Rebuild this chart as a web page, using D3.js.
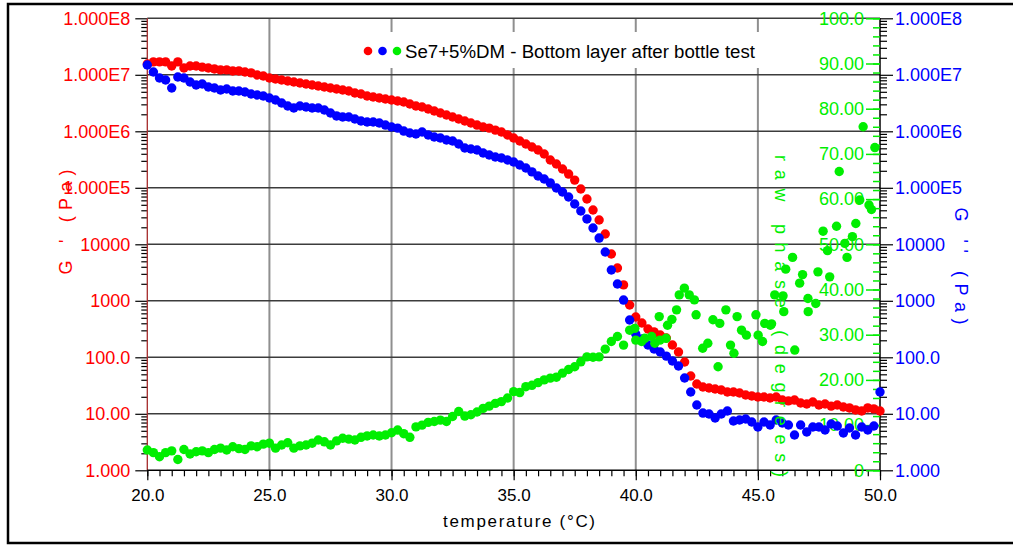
<!DOCTYPE html>
<html>
<head>
<meta charset="utf-8">
<script src="https://cdn.jsdelivr.net/npm/d3@7"></script>
<style>
  body { margin: 0; background: #fff; }
  svg { display: block; }
  text { font-family: "Liberation Sans", Arial, sans-serif; }
</style>
</head>
<body>
<svg id="chart" width="1013" height="547"></svg>
<script>
// Temperature sweep (°C) shared by G' and G''
const temps = [
  20.00,20.25,20.50,20.75,21.00,21.25,21.50,21.75,22.00,22.25,
  22.50,22.75,23.00,23.25,23.50,23.75,24.00,24.25,24.50,24.75,
  25.00,25.25,25.50,25.75,26.00,26.25,26.50,26.75,27.00,27.25,
  27.50,27.75,28.00,28.25,28.50,28.75,29.00,29.25,29.50,29.75,
  30.00,30.25,30.50,30.75,31.00,31.25,31.50,31.75,32.00,32.25,
  32.50,32.75,33.00,33.25,33.50,33.75,34.00,34.25,34.50,34.75,
  35.00,35.25,35.50,35.75,36.00,36.25,36.50,36.75,37.00,37.25,
  37.50,37.75,38.00,38.25,38.50,38.75,39.00,39.25,39.50,39.75,
  40.00,40.25,40.50,40.75,41.00,41.25,41.50,41.75,42.00,42.25,
  42.50,42.75,43.00,43.25,43.50,43.75,44.00,44.25,44.50,44.75,
  45.00,45.25,45.50,45.75,46.00,46.25,46.50,46.75,47.00,47.25,
  47.50,47.75,48.00,48.25,48.50,48.75,49.00,49.25,49.50,49.75,
  50.00
];

// Storage modulus G' (Pa)
const storageModulus = [
  1.55e7,1.69e7,1.69e7,1.69e7,1.43e7,1.69e7,1.32e7,1.43e7,1.43e7,1.37e7,
  1.32e7,1.27e7,1.22e7,1.22e7,1.17e7,1.17e7,1.12e7,1.08e7,9.91e6,9.52e6,
  8.77e6,8.43e6,8.09e6,7.77e6,7.46e6,7.16e6,6.88e6,6.60e6,6.34e6,6.08e6,
  5.84e6,5.61e6,5.38e6,5.17e6,4.76e6,4.57e6,4.21e6,4.05e6,3.88e6,3.73e6,
  3.58e6,3.44e6,3.30e6,3.04e6,2.80e6,2.69e6,2.48e6,2.29e6,2.11e6,1.94e6,
  1.79e6,1.65e6,1.52e6,1.40e6,1.29e6,1.19e6,1.14e6,1.05e6,9.72e5,8.61e5,
  7.61e5,6.73e5,5.96e5,5.27e5,4.67e5,3.96e5,3.10e5,2.64e5,2.15e5,1.75e5,
  1.37e5,9.53e4,6.34e4,4.05e4,2.69e4,1.52e4,6.73e3,3.81e3,1.91e3,843,
  517,405,317,281,248,220,165,124,82.6,46.7,
  33.7,29.8,28.6,27.5,26.4,24.3,24.3,23.3,21.5,20.7,
  19.8,19.8,19.0,19.8,17.5,16.9,17.5,15.5,14.9,16.2,
  14.3,14.9,13.7,14.3,13.2,12.7,11.7,11.2,12.7,12.2,
  11.2
];

// Loss modulus G'' (Pa)
const lossModulus = [
  1.49e7,1.12e7,8.77e6,8.09e6,5.84e6,9.14e6,8.77e6,7.46e6,6.60e6,6.88e6,
  6.08e6,5.84e6,5.38e6,5.61e6,5.17e6,5.17e6,4.96e6,4.57e6,4.39e6,4.21e6,
  3.88e6,3.58e6,3.17e6,2.80e6,2.58e6,2.80e6,2.69e6,2.58e6,2.58e6,2.38e6,
  2.11e6,1.87e6,1.79e6,1.79e6,1.65e6,1.52e6,1.46e6,1.46e6,1.40e6,1.29e6,
  1.19e6,1.14e6,1.01e6,9.33e5,8.96e5,9.72e5,8.61e5,7.93e5,7.61e5,7.01e5,
  6.73e5,5.96e5,5.06e5,4.86e5,4.67e5,4.13e5,3.81e5,3.51e5,3.37e5,3.10e5,
  2.86e5,2.53e5,2.24e5,1.91e5,1.62e5,1.43e5,1.22e5,9.91e4,8.43e4,6.88e4,
  5.17e4,3.88e4,2.81e4,1.94e4,1.29e4,7.31e3,3.51e3,1.98e3,1.03e3,457,
  258,211,165,140,124,105,86.1,70.2,43.0,24.3,
  14.3,10.3,9.92,8.43,9.92,11.2,7.46,7.77,8.09,7.16,
  5.84,7.16,6.34,7.77,6.88,6.34,4.21,6.34,4.76,5.84,
  5.84,5.17,6.60,6.08,4.57,5.61,4.21,5.84,5.17,6.08,
  24.3
];

// Raw phase angle (degrees) and the temperatures it was logged at
const phaseTemps = [
  20.00,20.25,20.50,20.75,21.00,21.25,21.50,21.75,22.00,22.25,
  22.50,22.75,23.00,23.25,23.50,23.75,24.00,24.25,24.50,24.75,
  25.00,25.25,25.50,25.75,26.00,26.25,26.50,26.75,27.00,27.25,
  27.50,27.75,28.00,28.25,28.50,28.75,29.00,29.25,29.50,29.75,
  30.00,30.25,30.50,30.75,31.00,31.25,31.50,31.75,32.00,32.25,
  32.50,32.75,33.00,33.25,33.50,33.75,34.00,34.25,34.50,34.75,
  35.00,35.25,35.50,35.75,36.00,36.25,36.50,36.75,37.00,37.25,
  37.50,37.75,38.00,38.25,38.50,38.75,39.00,39.25,39.50,39.75,
  39.96,40.00,40.24,40.37,40.65,40.78,40.96,40.99,41.24,41.30,
  41.48,41.67,41.78,41.99,42.19,42.40,42.47,42.74,42.95,43.16,
  43.37,43.44,43.69,43.88,44.02,44.15,44.33,44.53,44.92,45.01,
  45.19,45.28,45.51,45.56,45.69,46.03,46.06,46.14,46.42,46.51,
  46.71,46.83,47.05,47.06,47.37,47.46,47.67,47.85,47.94,48.22,
  48.33,48.56,48.65,48.87,49.01,49.17,49.31,49.55,49.65,49.79
];
const phaseAngle = [
  4.5,3.9,3.0,3.9,4.3,2.4,4.6,3.6,4.1,4.3,
  3.9,4.6,4.9,4.5,5.2,4.8,4.6,5.4,5.2,5.8,
  6.0,4.9,5.6,6.1,4.9,5.4,5.6,6.0,6.7,6.3,
  5.6,6.5,7.1,6.9,6.7,7.3,7.6,7.8,7.6,7.8,
  8.3,8.9,8.1,7.3,9.6,10.0,10.6,10.8,11.1,10.8,
  11.9,13.0,12.0,12.3,12.9,13.7,14.2,14.8,15.2,16.0,
  17.4,17.2,18.5,18.8,19.4,20.0,20.4,20.6,21.5,22.3,
  22.9,24.0,25.1,25.0,25.1,26.8,28.5,29.6,27.7,31.0,
  31.4,28.8,28.5,29.2,29.6,28.1,34.0,28.8,29.2,32.1,
  33.4,35.5,38.8,40.3,38.8,37.7,34.4,27.0,28.1,33.3,
  22.9,32.5,35.5,27.7,25.9,34.0,31.0,29.9,34.4,29.9,
  28.5,32.5,32.1,32.4,38.8,38.6,35.1,44.5,47.1,26.6,
  41.4,43.3,38.0,35.1,36.9,43.9,52.9,48.6,42.8,54.0,
  66.1,50.2,47.1,51.7,54.6,59.8,76.0,58.7,57.7,71.4
];

const xTicks = [20, 25, 30, 35, 40, 45, 50];
const xTickLabels = ["20.0", "25.0", "30.0", "35.0", "40.0", "45.0", "50.0"];
const modulusTicks = [1, 10, 100, 1000, 1e4, 1e5, 1e6, 1e7, 1e8];
const modulusLabels = ["1.000", "10.00", "100.0", "1000", "10000", "1.000E5", "1.000E6", "1.000E7", "1.000E8"];
const phaseTicks = [0, 10, 20, 30, 40, 50, 60, 70, 80, 90, 100];
const phaseLabels = ["0", "10.00", "20.00", "30.00", "40.00", "50.00", "60.00", "70.00", "80.00", "90.00", "100.0"];
const legendText = "Se7+5%DM - Bottom layer after bottle test";

const RED = "#ff0000", BLUE = "#0000ff", GREEN = "#00ee00";

const svg = d3.select("#chart");
svg.append("rect").attr("width", 1013).attr("height", 547).attr("fill", "#fff");

// outer frame
svg.append("rect")
  .attr("x", 8).attr("y", 4).attr("width", 1020).attr("height", 539)
  .attr("fill", "none").attr("stroke", "#000").attr("stroke-width", 2.5);

const x = d3.scaleLinear().domain([20, 50]).range([147.3, 880]);
const yMod = d3.scaleLog().domain([1, 1e8]).range([470.3, 18.3]);
const yPhase = d3.scaleLinear().domain([0, 100]).range([470.3, 18.3]);

// grid
const grid = svg.append("g");
grid.selectAll("line.v").data(xTicks.slice(1, -1)).join("line")
  .attr("x1", d => x(d)).attr("x2", d => x(d))
  .attr("y1", yMod(1e8)).attr("y2", yMod(1))
  .attr("stroke", "#8f8f8f").attr("stroke-width", 2);
grid.selectAll("line.h").data(modulusTicks.slice(1)).join("line")
  .attr("x1", x(20)).attr("x2", x(50))
  .attr("y1", d => yMod(d)).attr("y2", d => yMod(d))
  .attr("stroke", "#3c3c3c").attr("stroke-width", 1.6);

// legend backdrop
svg.append("rect").attr("x", 352).attr("y", 32).attr("width", 418).attr("height", 36).attr("fill", "#fff");

const minorLog = [];
modulusTicks.slice(0, -1).forEach(p => { for (let k = 2; k <= 9; k++) minorLog.push(p * k); });
const minorX = [];
for (let t = 20; t <= 50.001; t += 0.5) minorX.push(+t.toFixed(1));
const minorPhase = [];
for (let p = 0; p <= 100; p += 2) minorPhase.push(p);

function styleAxis(g, color, size) {
  g.select(".domain").remove();
  g.selectAll(".tick line").attr("stroke", "#000").attr("stroke-width", 1.2);
  g.selectAll("text").attr("fill", color).attr("font-size", size)
    .attr("font-family", "'Liberation Sans', Arial, sans-serif");
}

// left G' axis
const gl = svg.append("g").attr("transform", `translate(${x(20)},0)`);
gl.append("g").call(d3.axisLeft(yMod).tickValues(minorLog).tickSize(6).tickFormat(""))
  .call(g => styleAxis(g, RED, 18));
gl.append("g").call(d3.axisLeft(yMod).tickValues(modulusTicks).tickSize(12).tickPadding(5)
    .tickFormat((d, i) => modulusLabels[i]))
  .call(g => styleAxis(g, RED, 18));
gl.append("line").attr("y1", yMod(1e8)).attr("y2", yMod(1)).attr("stroke", "#a52a2a").attr("stroke-width", 1.3);

// bottom temperature axis
const gb = svg.append("g").attr("transform", `translate(0,${yMod(1)})`);
gb.append("g").call(d3.axisBottom(x).tickValues(minorX).tickSize(6).tickFormat(""))
  .call(g => styleAxis(g, "#000", 17));
gb.append("g").call(d3.axisBottom(x).tickValues(xTicks).tickSize(10).tickPadding(9)
    .tickFormat((d, i) => xTickLabels[i]))
  .call(g => styleAxis(g, "#000", 17));
gb.append("line").attr("x1", x(20)).attr("x2", x(50)).attr("stroke", "#000").attr("stroke-width", 1.5);

// right G'' axis
const gr = svg.append("g").attr("transform", `translate(${x(50)},0)`);
gr.append("g").call(d3.axisRight(yMod).tickValues(minorLog).tickSize(7).tickFormat(""))
  .call(g => styleAxis(g, BLUE, 18));
gr.append("g").call(d3.axisRight(yMod).tickValues(modulusTicks).tickSize(13).tickPadding(2)
    .tickFormat((d, i) => modulusLabels[i]))
  .call(g => styleAxis(g, BLUE, 18));

// phase axis (inside, same position)
const gp = svg.append("g").attr("transform", `translate(${x(50)},0)`);
gp.append("g").call(d3.axisLeft(yPhase).tickValues(minorPhase).tickSize(7).tickFormat(""))
  .call(g => styleAxis(g, GREEN, 18));
gp.append("g").call(d3.axisLeft(yPhase).tickValues(phaseTicks).tickSize(14).tickPadding(2)
    .tickFormat((d, i) => phaseLabels[i]))
  .call(g => styleAxis(g, GREEN, 18));
gp.selectAll(".tick line").attr("stroke", GREEN).attr("stroke-width", 1.5);
gr.append("line").attr("y1", yMod(1e8)).attr("y2", yMod(1)).attr("stroke", "#000").attr("stroke-width", 1.5);

// axis titles
svg.append("text").attr("transform", "translate(72,222) rotate(-90)")
  .attr("text-anchor", "middle").attr("font-size", 18).attr("fill", RED)
  .attr("textLength", 105).attr("lengthAdjust", "spacing").text("G ' (Pa)");
svg.append("text").attr("transform", "translate(955,266) rotate(90)")
  .attr("text-anchor", "middle").attr("font-size", 18).attr("fill", BLUE)
  .attr("textLength", 117).attr("lengthAdjust", "spacing").text("G '' (Pa)");
svg.append("text").attr("x", 519).attr("y", 527)
  .attr("text-anchor", "middle").attr("font-size", 17).attr("fill", "#000")
  .attr("textLength", 152).attr("lengthAdjust", "spacing").text("temperature (°C)");

// data points
const R = 4.7;
const gPrime = temps.map((t, i) => ({ t, v: storageModulus[i] }));
const gDouble = temps.map((t, i) => ({ t, v: lossModulus[i] }));
const phase = phaseTemps.map((t, i) => ({ t, v: phaseAngle[i] }));

svg.append("g").selectAll("circle").data(gPrime).join("circle")
  .attr("cx", d => x(d.t)).attr("cy", d => yMod(d.v)).attr("r", R).attr("fill", RED);
svg.append("g").selectAll("circle").data(gDouble).join("circle")
  .attr("cx", d => x(d.t)).attr("cy", d => yMod(d.v)).attr("r", R).attr("fill", BLUE);

svg.append("text").attr("transform", "translate(775,316) rotate(90)")
  .attr("text-anchor", "middle").attr("font-size", 18).attr("fill", GREEN)
  .attr("textLength", 322).attr("lengthAdjust", "spacing").text("raw phase (degrees)");

svg.append("g").selectAll("circle").data(phase).join("circle")
  .attr("cx", d => x(d.t)).attr("cy", d => yPhase(d.v)).attr("r", R).attr("fill", GREEN);

// legend
const legend = svg.append("g");
[RED, BLUE, GREEN].forEach((c, i) => {
  legend.append("circle").attr("cx", 368 + i * 14.5).attr("cy", 51).attr("r", 4.3).attr("fill", c);
});
legend.append("text").attr("x", 405).attr("y", 58).attr("font-size", 18).attr("fill", "#000")
  .attr("textLength", 350).attr("lengthAdjust", "spacingAndGlyphs").text(legendText);
</script>
</body>
</html>
